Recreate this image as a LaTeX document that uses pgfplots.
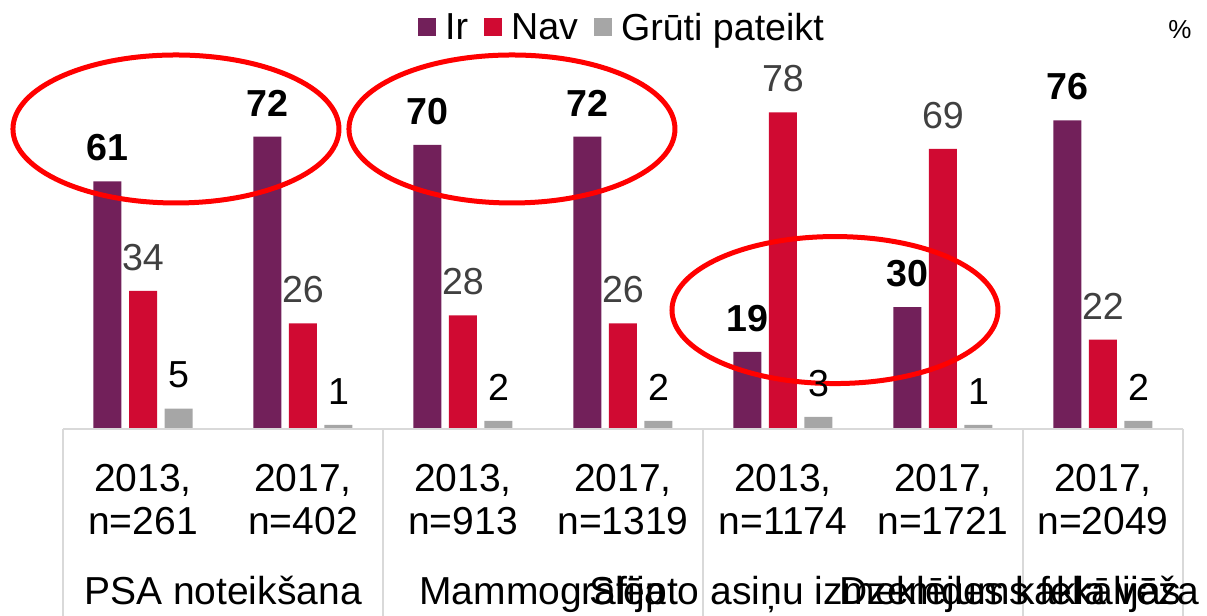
\documentclass[border=0pt]{standalone}
\usepackage{fontspec}
\setmainfont{Liberation Sans}
\usepackage{pgfplots}
\pgfplotsset{compat=1.18}
\definecolor{ircol}{HTML}{72205A}
\definecolor{navcol}{HTML}{D00A32}
\definecolor{grcol}{HTML}{A6A6A6}
\definecolor{boxcol}{HTML}{D9D9D9}
\definecolor{navlab}{HTML}{404040}
\pgfplotsset{ybar legend/.style={/pgfplots/legend image code/.code={\fill[##1] (0pt,-4pt) rectangle (9pt,5pt);}}}
\begin{document}
\begin{tikzpicture}
\begin{axis}[
  at={(31.5pt,93.5pt)}, anchor=south west,
  scale only axis, width=560pt, height=182.7pt,
  xmin=-0.5, xmax=6.5, ymin=0, ymax=90,
  axis line style={draw=none}, major tick length=0pt,
  ybar, bar width=14pt,
  xtick={0,1,2,3,4,5,6},
  xticklabels={{2013,\\n=261},{2017,\\n=402},{2013,\\n=913},{2017,\\n=1319},{2013,\\n=1174},{2017,\\n=1721},{2017,\\n=2049}},
  ytick=\empty,
  xticklabel style={align=center, font=\fontsize{19.5}{21.5}\selectfont, anchor=north, inner sep=0pt, yshift=-17.5pt},
  clip=false,
  /pgf/number format/assume math mode=true,
  legend style={at={(0.5,1.097)}, anchor=center, draw=none, legend columns=3, font=\fontsize{18.8}{22}\selectfont, /tikz/every odd column/.append style={column sep=2.5pt}, /tikz/every even column/.append style={column sep=6pt}},
  nodes near coords,
  every node near coord/.append style={anchor=south, inner sep=0pt, yshift=10pt, font=\fontsize{18.8}{20}\selectfont},
]
\addplot[fill=ircol, draw=none, bar shift=-17.75pt, every node near coord/.append style={font=\bfseries\fontsize{18.8}{20}\selectfont, text=black}] coordinates {(0,61) (1,72) (2,70) (3,72) (4,19) (5,30) (6,76)};
\addplot[fill=navcol, draw=none, bar shift=0pt, every node near coord/.append style={text=navlab}] coordinates {(0,34) (1,26) (2,28) (3,26) (4,78) (5,69) (6,22)};
\addplot[fill=grcol, draw=none, bar shift=17.75pt, every node near coord/.append style={text=black}] coordinates {(0,5) (1,1) (2,2) (3,2) (4,3) (5,1) (6,2)};
\legend{Ir, Nav, Grūti pateikt}
\draw[boxcol, line width=0.75pt] (axis cs:-0.5,0) -- (axis cs:6.5,0);
\draw[boxcol, line width=0.75pt] (axis cs:-0.5,0) -- (axis cs:-0.5,-50);
\draw[boxcol, line width=0.75pt] (axis cs:1.5,0) -- (axis cs:1.5,-50);
\draw[boxcol, line width=0.75pt] (axis cs:3.5,0) -- (axis cs:3.5,-50);
\draw[boxcol, line width=0.75pt] (axis cs:5.5,0) -- (axis cs:5.5,-50);
\draw[boxcol, line width=0.75pt] (axis cs:6.5,0) -- (axis cs:6.5,-50);
\node[anchor=base, font=\fontsize{19.5}{22}\selectfont] at (axis cs:0.5,-43.3) {PSA noteikšana};
\node[anchor=base, font=\fontsize{19.5}{22}\selectfont] at (axis cs:2.5,-43.3) {Mammogrāfija};
\node[anchor=base, font=\fontsize{19.5}{22}\selectfont, xshift=11pt] at (axis cs:4.5,-43.3) {Slēpto asiņu izmeklējums fekālijās};
\node[anchor=base, font=\fontsize{19.5}{22}\selectfont] at (axis cs:6,-43.3) {Dzemdes kakla vēža skrīnings};
\draw[red, line width=2.5pt] (axis cs:0.206,73.9) ellipse [x radius=81.5pt, y radius=37pt];
\draw[red, line width=2.5pt] (axis cs:2.306,73.9) ellipse [x radius=81.5pt, y radius=37pt];
\draw[red, line width=2.5pt] (axis cs:4.325,29.3) ellipse [x radius=81.5pt, y radius=36.75pt];
\end{axis}
\node[font=\fontsize{13}{15}\selectfont] at (590pt,293pt) {\%};
\pgfresetboundingbox
\useasboundingbox (0,0) rectangle (603.5pt,308pt);
\end{tikzpicture}
\end{document}
